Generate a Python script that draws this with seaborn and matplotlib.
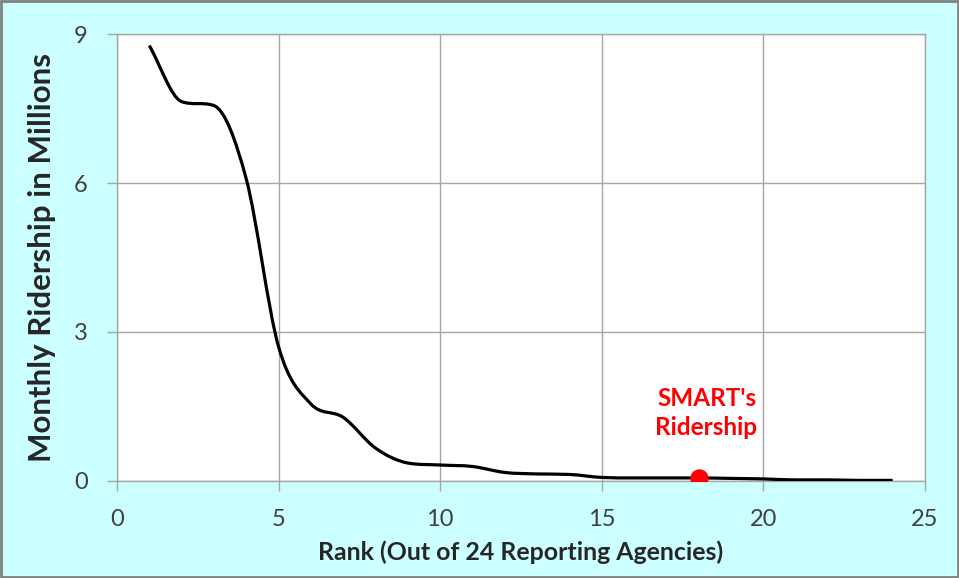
#!/usr/bin/env python3

import numpy as np
import matplotlib
matplotlib.use('Agg')
import matplotlib.pyplot as plt
from matplotlib.path import Path
from matplotlib.patches import PathPatch
import seaborn as sns

# Dados (ranking x ridership mensal em milhões)
ranks = list(range(1, 25))
ridership = [8.77, 7.64, 7.56, 6.08, 2.70, 1.55, 1.28, 0.66, 0.36, 0.32,
             0.29, 0.17, 0.14, 0.13, 0.07, 0.06, 0.06, 0.06, 0.05, 0.04,
             0.02, 0.02, 0.01, 0.01]
smart_rank = 18
smart_value = 0.06
x_ticks = [0, 5, 10, 15, 20, 25]
y_ticks = [0, 3, 6, 9]

BG = '#CCFFFF'
GRID = '#A6A6A6'


def smooth_path(xs, ys):
    """Curva suavizada (Catmull-Rom com limite de monotonicidade)"""
    x = np.asarray(xs, float)
    y = np.asarray(ys, float)
    h = np.diff(x)
    d = np.diff(y) / h
    m = np.zeros_like(y)
    m[0], m[-1] = d[0], d[-1]
    for i in range(1, len(y) - 1):
        if d[i - 1] * d[i] <= 0:
            continue
        cr = (y[i + 1] - y[i - 1]) / (x[i + 1] - x[i - 1])
        lim = 3.0 * min(abs(d[i - 1]), abs(d[i]))
        m[i] = np.sign(cr) * min(abs(cr), lim)
    verts = [(x[0], y[0])]
    codes = [Path.MOVETO]
    for i in range(len(x) - 1):
        verts += [(x[i] + h[i] / 3, y[i] + m[i] * h[i] / 3),
                  (x[i + 1] - h[i] / 3, y[i + 1] - m[i + 1] * h[i] / 3),
                  (x[i + 1], y[i + 1])]
        codes += [Path.CURVE4] * 3
    return Path(verts, codes)


sns.set_style('white')
plt.rcParams['font.family'] = ['Lato', 'DejaVu Sans']

fig = plt.figure(figsize=(9.59, 5.78), dpi=100, facecolor=BG)
ax = fig.add_axes([0.122, 0.168, 0.8425, 0.773])
ax.set_facecolor('white')

patch = PathPatch(smooth_path(ranks, ridership), facecolor='none',
                  edgecolor='black', lw=2.3, capstyle='butt', zorder=3)
ax.add_patch(patch)

sns.scatterplot(x=[smart_rank], y=[smart_value], color='#FF0000', s=150,
                edgecolor='#FF0000', ax=ax, zorder=4, legend=False)

ax.text(smart_rank + 1.8, 1.37, "SMART's\nRidership", color='#FF0000',
        fontsize=17.5, fontweight='bold', ha='right', va='center',
        linespacing=1.35)

ax.set_xlim(0, 25)
ax.set_ylim(0, 9)
ax.set_xticks(x_ticks)
ax.set_yticks(y_ticks)
ax.grid(True, color=GRID, lw=1)
for s in ax.spines.values():
    s.set_color(GRID)
    s.set_linewidth(1)
ax.tick_params(axis='both', which='major', direction='out', length=7,
               width=1, color=GRID, labelsize=17, labelcolor='#404040',
               bottom=True, left=True)
ax.tick_params(axis='x', pad=13)
ax.tick_params(axis='y', pad=14)

ax.set_xlabel('Rank (Out of 24 Reporting Agencies)', fontsize=17.9,
              fontweight='bold', labelpad=8)
ax.set_ylabel('Monthly Ridership in Millions', fontsize=22.5,
              fontweight='bold', labelpad=13)

fig.patches.append(plt.Rectangle((0.001, 0.001), 0.998, 0.997,
                                 transform=fig.transFigure, fill=False,
                                 edgecolor='#808080', lw=2))

fig.savefig('out.png', dpi=100, facecolor=BG)
